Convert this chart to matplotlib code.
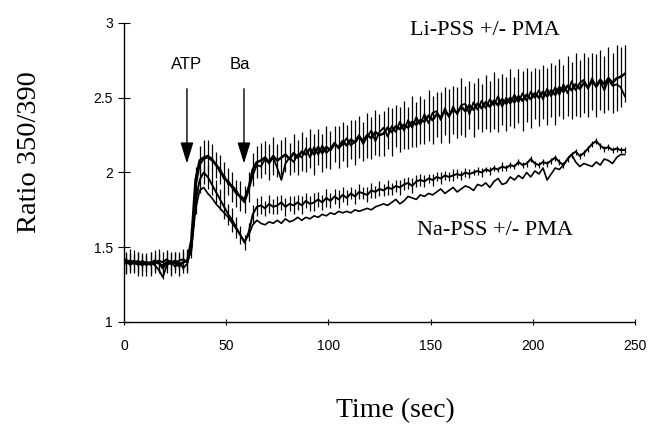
import numpy as np
import matplotlib
matplotlib.use("Agg")
import matplotlib.pyplot as plt

# time grid (s)
time_s = np.arange(1, 246, 2)

li_a = [1.40,1.41,1.39,1.40,1.38,1.40,1.39,1.41,1.40,1.36,1.40,1.39,1.41,1.38,1.40,1.41,
        1.55,1.95,2.08,2.10,2.11,2.09,2.05,2.02,1.96,1.94,1.90,1.86,1.84,1.82,1.90,2.02,2.07,
        2.08,2.10,2.07,2.11,2.08,2.10,2.12,2.09,2.13,2.10,
        2.14,2.12,2.16,2.12,2.17,2.13,2.17,2.15,2.19,2.17,
        2.21,2.18,2.22,2.20,2.24,2.21,2.25,2.23,2.27,2.25,
        2.26,2.30,2.27,2.31,2.29,2.32,2.30,2.34,2.32,2.35,
        2.34,2.38,2.35,2.39,2.37,2.41,2.38,2.42,2.40,2.44,
        2.41,2.45,2.42,2.46,2.43,2.47,2.44,2.48,2.45,2.49,
        2.46,2.50,2.47,2.51,2.48,2.52,2.49,2.53,2.50,2.54,
        2.51,2.55,2.52,2.57,2.54,2.58,2.55,2.59,2.56,2.60,
        2.57,2.61,2.58,2.62,2.59,2.63,2.60,2.63,2.64,2.66]

li_a_err = [0.07,0.08,0.06,0.07,0.07,0.06,0.08,0.07,0.06,0.07,0.07,0.08,0.06,0.07,0.07,0.08,
            0.08,0.09,0.10,0.12,0.11,0.10,0.09,0.10,0.11,0.09,0.10,0.09,0.10,0.09,0.10,0.11,0.11,
            0.12,0.11,0.12,0.13,0.11,0.12,0.12,0.11,0.13,0.12,
            0.13,0.12,0.13,0.14,0.12,0.13,0.14,0.13,0.12,0.14,
            0.13,0.14,0.13,0.15,0.14,0.13,0.15,0.14,0.15,0.14,
            0.15,0.14,0.16,0.14,0.15,0.16,0.14,0.17,0.15,0.16,
            0.15,0.17,0.16,0.15,0.17,0.16,0.18,0.16,0.17,0.19,
            0.17,0.16,0.18,0.17,0.16,0.18,0.17,0.19,0.18,0.17,
            0.18,0.19,0.17,0.18,0.20,0.18,0.19,0.17,0.19,0.18,
            0.19,0.18,0.20,0.19,0.18,0.20,0.19,0.21,0.19,0.20,
            0.20,0.19,0.21,0.20,0.19,0.21,0.20,0.22,0.20,0.19]

li_b = [1.42,1.39,1.40,1.38,1.41,1.39,1.40,1.38,1.35,1.30,1.38,1.40,1.37,1.40,1.36,1.39,
        1.50,1.90,2.05,2.09,2.10,2.08,2.06,2.00,1.98,1.92,1.91,1.88,1.83,1.80,1.88,1.98,2.05,
        2.04,2.09,2.06,2.10,2.03,1.95,2.06,2.10,2.07,2.12,
        2.10,2.16,2.10,2.17,2.12,2.18,2.13,2.16,2.20,2.16,
        2.19,2.23,2.18,2.21,2.25,2.19,2.24,2.28,2.21,2.27,
        2.30,2.24,2.31,2.27,2.34,2.28,2.35,2.30,2.37,2.32,
        2.39,2.33,2.40,2.41,2.35,2.43,2.37,2.44,2.39,2.45,
        2.46,2.39,2.47,2.42,2.48,2.43,2.49,2.45,2.51,2.44,
        2.50,2.46,2.52,2.47,2.53,2.48,2.54,2.50,2.55,2.49,
        2.56,2.51,2.57,2.52,2.59,2.53,2.61,2.55,2.60,2.62,
        2.56,2.63,2.57,2.61,2.55,2.62,2.58,2.59,2.57,2.51]

na_a = [1.39,1.40,1.41,1.39,1.40,1.38,1.40,1.39,1.41,1.40,1.42,1.39,1.40,1.41,1.42,1.40,
        1.50,1.80,1.95,2.00,1.97,1.92,1.87,1.82,1.77,1.72,1.68,1.63,1.58,1.53,1.60,1.72,1.77,
        1.78,1.76,1.79,1.77,1.78,1.80,1.77,1.79,1.78,1.80,
        1.78,1.81,1.79,1.80,1.82,1.80,1.83,1.81,1.84,1.82,
        1.85,1.83,1.86,1.84,1.87,1.86,1.85,1.88,1.87,1.89,
        1.88,1.90,1.89,1.91,1.90,1.92,1.93,1.91,1.94,1.95,
        1.94,1.96,1.95,1.97,1.96,1.98,1.97,1.98,1.99,1.98,
        2.00,1.99,2.00,2.01,2.00,2.02,2.01,2.03,2.02,2.04,
        2.03,2.05,2.04,2.07,2.05,2.06,2.09,2.06,2.05,2.07,
        2.06,2.08,2.10,2.07,2.05,2.09,2.12,2.14,2.11,2.13,
        2.16,2.19,2.21,2.18,2.16,2.17,2.15,2.16,2.15,2.15]

na_a_err = [0.07,0.06,0.07,0.08,0.06,0.07,0.07,0.06,0.08,0.07,0.06,0.07,0.07,0.06,0.07,0.06,
            0.07,0.08,0.09,0.08,0.08,0.07,0.08,0.07,0.08,0.07,0.08,0.07,0.06,0.05,0.06,0.06,0.06,
            0.06,0.05,0.06,0.05,0.06,0.05,0.06,0.05,0.06,0.05,
            0.06,0.05,0.05,0.06,0.05,0.05,0.06,0.05,0.05,0.06,
            0.05,0.05,0.04,0.05,0.05,0.04,0.05,0.05,0.04,0.05,
            0.04,0.05,0.04,0.04,0.05,0.04,0.04,0.05,0.04,0.04,
            0.04,0.03,0.04,0.03,0.04,0.03,0.03,0.04,0.03,0.03,
            0.03,0.03,0.02,0.03,0.03,0.02,0.03,0.02,0.02,0.03,
            0.02,0.02,0.02,0.02,0.02,0.02,0.02,0.02,0.02,0.02,
            0.02,0.02,0.02,0.02,0.02,0.02,0.02,0.02,0.02,0.02,
            0.02,0.02,0.02,0.02,0.02,0.02,0.02,0.02,0.02,0.02]

na_b = [1.41,1.38,1.40,1.41,1.39,1.40,1.38,1.40,1.39,1.38,1.40,1.41,1.39,1.37,1.40,1.41,
        1.48,1.75,1.88,1.90,1.86,1.83,1.79,1.76,1.73,1.70,1.66,1.62,1.58,1.54,1.58,1.65,1.68,
        1.66,1.65,1.67,1.66,1.68,1.66,1.69,1.67,1.68,1.70,
        1.68,1.70,1.69,1.71,1.70,1.72,1.71,1.73,1.72,1.74,
        1.73,1.74,1.73,1.75,1.74,1.75,1.76,1.75,1.77,1.78,
        1.79,1.78,1.80,1.82,1.79,1.81,1.84,1.83,1.82,1.85,
        1.84,1.86,1.85,1.87,1.89,1.86,1.88,1.90,1.87,1.89,
        1.91,1.90,1.88,1.92,1.91,1.93,1.90,1.94,1.96,1.92,
        1.93,1.97,1.95,1.98,1.96,2.00,1.97,2.01,1.99,2.03,
        1.95,1.99,2.03,2.02,2.05,2.09,2.12,2.07,2.04,2.06,
        2.05,2.04,2.07,2.05,2.09,2.08,2.06,2.10,2.12,2.12]

x_ticks = [0, 50, 100, 150, 200, 250]
y_ticks = [1, 1.5, 2, 2.5, 3]
y_tick_labels = ["1", "1.5", "2", "2.5", "3"]

arrow_x = [30.8, 58.7]
arrow_label_x = [30.8, 56.7]
arrow_labels = ["ATP", "Ba"]

fig = plt.figure(figsize=(6.57, 4.28), dpi=100)
ax = fig.add_axes([0.1887, 0.2477, 0.7778, 0.6986])

ax.errorbar(time_s, li_a, yerr=li_a_err, color="black", lw=1.8, elinewidth=0.9, capsize=0)
ax.plot(time_s, li_b, color="black", lw=1.3)
ax.errorbar(time_s, na_a, yerr=na_a_err, color="black", lw=1.4, elinewidth=0.9, capsize=0)
ax.plot(time_s, na_b, color="black", lw=1.2)

for xa, xl, lab in zip(arrow_x, arrow_label_x, arrow_labels):
    ax.annotate("", xy=(xa, 2.06), xytext=(xa, 2.56),
                arrowprops=dict(arrowstyle="-|>,head_length=1.3,head_width=0.4",
                                color="black", lw=1.0, shrinkA=0, shrinkB=0))
    ax.text(xl, 2.72, lab, ha="center", va="center", fontsize=12,
            family="Liberation Sans")

ax.text(140, 2.95, "Li-PSS +/- PMA", ha="left", va="center", fontsize=16,
        family="Liberation Serif")
ax.text(143.3, 1.615, "Na-PSS +/- PMA", ha="left", va="center", fontsize=16,
        family="Liberation Serif")

ax.set_xlim(0, 250)
ax.set_ylim(1, 3)
ax.spines["top"].set_visible(False)
ax.spines["right"].set_visible(False)
ax.spines["left"].set_linewidth(1.0)
ax.spines["bottom"].set_linewidth(1.0)
ax.set_xticks(x_ticks)
ax.set_yticks(y_ticks)
ax.set_yticklabels(y_tick_labels)
ax.tick_params(axis="x", direction="inout", length=5, width=0.8, pad=10, labelsize=10)
ax.tick_params(axis="y", direction="inout", length=8, width=0.8, pad=4, labelsize=10)
for lbl in ax.get_xticklabels() + ax.get_yticklabels():
    lbl.set_family("Liberation Sans")

fig.text(395 / 657, 1 - 411 / 428, "Time (sec)", ha="center", va="center", fontsize=20,
         family="Liberation Serif")
fig.text(30 / 657, 1 - 152 / 428, "Ratio 350/390", ha="center", va="center",
         rotation=90, fontsize=20.5, family="Liberation Serif")

fig.savefig("out.png", dpi=100)
